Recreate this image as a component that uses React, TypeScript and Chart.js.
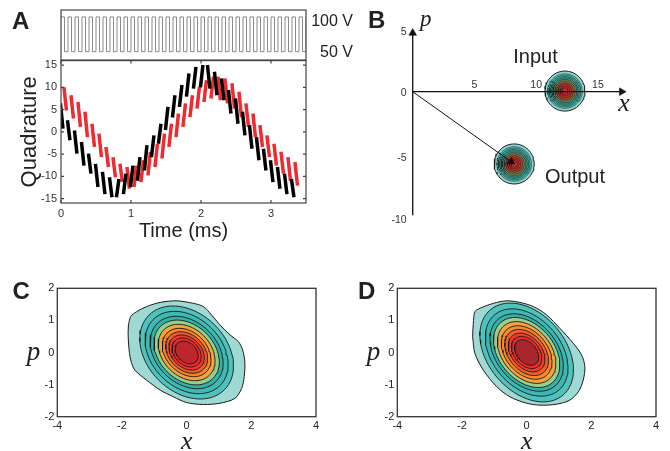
import React, { useEffect, useRef } from "react";
import { Chart, registerables } from "chart.js";
Chart.register(...registerables);

const FONT = '"Liberation Sans", Arial, Helvetica, sans-serif';
const SERIF = '"Liberation Serif", "Times New Roman", serif';
Chart.defaults.font.family = FONT;
Chart.defaults.color = "#333";

// ---------- Panel A : drive voltage ----------
const pulseTimes = [
  0, 0.05, 0.1, 0.15, 0.2, 0.25, 0.3, 0.35, 0.4, 0.45,
  0.5, 0.55, 0.6, 0.65, 0.7, 0.75, 0.8, 0.85, 0.9, 0.95,
  1, 1.05, 1.1, 1.15, 1.2, 1.25, 1.3, 1.35, 1.4, 1.45,
  1.5, 1.55, 1.6, 1.65, 1.7, 1.75, 1.8, 1.85, 1.9, 1.95,
  2, 2.05, 2.1, 2.15, 2.2, 2.25, 2.3, 2.35, 2.4, 2.45,
  2.5, 2.55, 2.6, 2.65, 2.7, 2.75, 2.8, 2.85, 2.9, 2.95,
  3, 3.05, 3.1, 3.15, 3.2, 3.25, 3.3, 3.35, 3.4, 3.45, 3.5,
];
const pulseLevels = [
  100, 50, 100, 50, 100, 50, 100, 50, 100, 50,
  100, 50, 100, 50, 100, 50, 100, 50, 100, 50,
  100, 50, 100, 50, 100, 50, 100, 50, 100, 50,
  100, 50, 100, 50, 100, 50, 100, 50, 100, 50,
  100, 50, 100, 50, 100, 50, 100, 50, 100, 50,
  100, 50, 100, 50, 100, 50, 100, 50, 100, 50,
  100, 50, 100, 50, 100, 50, 100, 50, 100, 50, 100,
];

// ---------- Panel A : quadrature streaks ----------
const blackTimes = [
  0.01, 0.11, 0.21, 0.31, 0.41, 0.51, 0.61, 0.71, 0.81, 0.91,
  1.01, 1.11, 1.21, 1.31, 1.41, 1.51, 1.61, 1.71, 1.81, 1.91,
  2.01, 2.11, 2.21, 2.31, 2.41, 2.51, 2.61, 2.71, 2.81, 2.91,
  3.01, 3.11, 3.21, 3.31,
];
const blackLow = [
  0.7, -1.9, -4.9, -7.6, -9.4, -12.4, -14.0, -14.7, -14.7, -14.0,
  -12.4, -11.0, -8.7, -5.7, -2.7, 0.4, 3.2, 5.6, 7.9, 9.7,
  10.0, 9.7, 8.2, 7.1, 4.1, 1.8, -0.8, -3.8, -6.4, -8.7,
  -11.3, -12.8, -14.0, -14.7,
];
const blackHigh = [
  6.4, 2.6, 0.3, -2.3, -4.9, -7.2, -9.0, -10.2, -10.6, -9.4,
  -7.6, -5.7, -3.0, -0.8, 1.8, 5.6, 8.2, 10.5, 13.1, 14.6,
  15.0, 15.0, 13.5, 12.0, 9.4, 7.5, 4.5, 1.5, -1.2, -3.8,
  -6.4, -7.9, -9.4, -10.6,
];
const redTimes = [
  0.06, 0.16, 0.26, 0.36, 0.46, 0.56, 0.66, 0.76, 0.86, 0.96,
  1.06, 1.16, 1.26, 1.36, 1.46, 1.56, 1.66, 1.76, 1.86, 1.96,
  2.06, 2.16, 2.26, 2.36, 2.46, 2.56, 2.66, 2.76, 2.86, 2.96,
  3.06, 3.16, 3.26, 3.36,
];
const redLow = [
  4.8, 3.0, 1.1, -1.2, -3.4, -5.7, -7.9, -10.2, -11.3, -12.8,
  -12.4, -11.3, -9.8, -7.9, -6.0, -3.4, -1.2, 1.1, 3.3, 5.2,
  6.7, 7.5, 7.1, 6.4, 5.2, 3.3, 1.1, -1.2, -3.4, -5.7,
  -7.6, -9.4, -11.0, -12.1,
];
const redHigh = [
  10.0, 8.2, 6.7, 4.5, 1.8, -0.4, -3.4, -5.7, -7.2, -7.9,
  -7.6, -6.4, -4.5, -2.7, -0.4, 1.8, 4.1, 6.4, 8.2, 10.1,
  11.6, 12.4, 12.4, 12.0, 10.9, 9.0, 6.4, 4.1, 1.5, -0.8,
  -2.7, -4.5, -5.7, -6.8,
];
const timeTicks = [0, 1, 2, 3];
const quadTicks = [-15, -10, -5, 0, 5, 10, 15];

// ---------- Panel B ----------
const bTicksX = [5, 10, 15];
const bTicksY = [5, 0, -5, -10];
const inputCenter = { x: 12.33, y: 0.05 };
const outputCenter = { x: 8.22, y: -5.85 };
const blobRadii = [1.62, 1.4, 1.28, 1.17, 1.06, 0.95, 0.82, 0.68, 0.54, 0.4, 0.26];
const blobColors = [
  "#8fd3cc", "#55c2bb", "#41b8b0", "#34ada5", "#3b9f8e", "#6f8a5e",
  "#9a6a3c", "#b04a30", "#c0352e", "#c92b2d", "#d2282c",
];

// ---------- Panels C and D ----------
const cdTicksX = [-4, -2, 0, 2, 4];
const cdTicksY = [-2, -1, 0, 1, 2];
const cOuterX = [-1.8, -1.73, -1.55, -1.24, -0.82, -0.31, 0.21, 0.52, 0.77, 1.03, 1.34, 1.6, 1.73, 1.8, 1.78, 1.7, 1.49, 1.03, 0.52, 0.0, -0.41, -0.82, -1.24, -1.6, -1.73, -1.79, -1.81];
const cOuterY = [0.86, 1.12, 1.27, 1.43, 1.56, 1.61, 1.53, 1.43, 1.17, 0.86, 0.55, 0.34, 0.08, -0.29, -0.75, -1.12, -1.43, -1.58, -1.62, -1.56, -1.38, -1.17, -0.86, -0.55, -0.23, 0.18, 0.6];
const cRingB = [1.22, 1.08, 0.95, 0.85, 0.74, 0.635, 0.545, 0.46, 0.38, 0.3];
const cRingColors = ["#4fc2bc", "#3fbab2", "#33b1a9", "#8fd08f", "#f5a43a", "#f6842c", "#f15a2b", "#ee3a2d", "#ec2a2c", "#be262d"];
const dOuterX = [-1.67, -1.65, -1.6, -1.44, -1.03, -0.62, -0.21, 0.21, 0.62, 1.03, 1.44, 1.7, 1.8, 1.75, 1.6, 1.34, 0.93, 0.41, 0.0, -0.52, -0.93, -1.34, -1.6];
const dOuterY = [0.49, 0.91, 1.27, 1.38, 1.53, 1.61, 1.56, 1.43, 1.17, 0.75, 0.29, -0.08, -0.44, -0.86, -1.22, -1.48, -1.61, -1.64, -1.58, -1.38, -1.06, -0.55, -0.03];
const dRingB = [1.2, 1.06, 0.94, 0.85, 0.75, 0.65, 0.56, 0.47, 0.39, 0.31];
const dRingColors = ["#50c2bc", "#3cb8b0", "#35b0a8", "#95d08e", "#f6a23a", "#f6892d", "#f15e2c", "#ee3c2d", "#ec2c2c", "#a9262c"];

// ---------- helpers ----------
function streaks(times: number[], lo: number[], hi: number[]) {
  const pts: any[] = [];
  const c = times.map((_, i) => (lo[i] + hi[i]) / 2);
  const w = 0.018;
  for (let i = 0; i < times.length; i++) {
    const prev = c[Math.max(0, i - 1)];
    const next = c[Math.min(c.length - 1, i + 1)];
    const up = next > prev;
    pts.push({ x: times[i] - w, y: up ? lo[i] : hi[i] });
    pts.push({ x: times[i] + w, y: up ? hi[i] : lo[i] });
    pts.push({ x: times[i] + w, y: null });
  }
  return pts;
}

function ellipsePts(cx: number, cy: number, b: number, ratio: number, angDeg: number) {
  const a = b * ratio;
  const th = (angDeg * Math.PI) / 180;
  const pts: any[] = [];
  const n = 72;
  for (let k = 0; k <= n; k++) {
    const t = (k / n) * 2 * Math.PI;
    pts.push({
      x: cx + a * Math.cos(t) * Math.cos(th) - b * Math.sin(t) * Math.sin(th),
      y: cy + a * Math.cos(t) * Math.sin(th) + b * Math.sin(t) * Math.cos(th),
    });
  }
  return pts;
}

function makeFrame(color: string, width: number, tick: number) {
  return {
    id: "frame",
    afterDraw(chart: any) {
      const { ctx, chartArea: a } = chart;
      ctx.save();
      ctx.strokeStyle = color;
      ctx.lineWidth = width;
      ctx.strokeRect(a.left, a.top, a.right - a.left, a.bottom - a.top);
      if (tick) {
        ctx.beginPath();
        const sx = chart.scales.x;
        const sy = chart.scales.y;
        sx.ticks.forEach((t: any) => {
          const px = sx.getPixelForValue(t.value);
          ctx.moveTo(px, a.bottom);
          ctx.lineTo(px, a.bottom - tick);
          ctx.moveTo(px, a.top);
          ctx.lineTo(px, a.top + tick);
        });
        sy.ticks.forEach((t: any) => {
          const py = sy.getPixelForValue(t.value);
          ctx.moveTo(a.left, py);
          ctx.lineTo(a.left + tick, py);
          ctx.moveTo(a.right, py);
          ctx.lineTo(a.right - tick, py);
        });
        ctx.stroke();
      }
      ctx.restore();
    },
  };
}

function makeTickText(items: { x: number; y: number; text: string; dx: number; dy: number; align: string }[]) {
  return {
    id: "ticktext",
    afterDraw(chart: any) {
      const { ctx } = chart;
      ctx.save();
      ctx.fillStyle = "#333";
      ctx.font = `10.5px ${FONT}`;
      ctx.textBaseline = "middle";
      items.forEach((it) => {
        ctx.textAlign = it.align;
        ctx.fillText(it.text, chart.scales.x.getPixelForValue(it.x) + it.dx, chart.scales.y.getPixelForValue(it.y) + it.dy);
      });
      ctx.restore();
    },
  };
}

const baseOpts = {
  responsive: false,
  animation: false as const,
  events: [] as any[],
  elements: { point: { radius: 0 }, line: { tension: 0 } },
};
const noPlugins = { legend: { display: false }, tooltip: { enabled: false } };

function fixTicks(vals: number[]) {
  return (s: any) => {
    s.ticks = vals.map((v) => ({ value: v }));
  };
}

// ---------- chart configs ----------
function makeATop(): any {
  return {
    type: "line",
    data: {
      datasets: [
        {
          data: pulseTimes.map((t, i) => ({ x: t, y: pulseLevels[i] })),
          borderColor: "#8a8a8a",
          borderWidth: 1,
          stepped: "before",
        },
      ],
    },
    options: {
      ...baseOpts,
      layout: { padding: { left: 61, right: 34, top: 10, bottom: 2 } },
      scales: {
        x: { type: "linear", min: 0, max: 3.5, display: false },
        y: { min: 38, max: 110, display: false, afterBuildTicks: fixTicks([50, 100]) },
      },
      plugins: noPlugins,
    },
    plugins: [makeFrame("#444", 1.2, 0)],
  };
}

function makeAMain(): any {
  return {
    type: "line",
    data: {
      datasets: [
        { data: streaks(blackTimes, blackLow, blackHigh), borderColor: "#000", borderWidth: 3.5, spanGaps: false, order: 0 },
        { data: streaks(redTimes, redLow, redHigh), borderColor: "#ee2b30", borderWidth: 3.5, spanGaps: false, order: 1 },
      ],
    },
    options: {
      ...baseOpts,
      layout: { padding: { left: 0, right: 34, top: 10, bottom: 0 } },
      scales: {
        x: {
          type: "linear", min: 0, max: 3.5,
          afterBuildTicks: fixTicks(timeTicks),
          afterFit: (s: any) => { s.height = 42; },
          grid: { display: false, drawTicks: false },
          border: { display: false },
          ticks: { padding: 4, font: { size: 11 }, color: "#333", maxRotation: 0, autoSkip: false },
          title: { display: true, text: "Time (ms)", font: { size: 20 }, color: "#222", padding: { top: 0, bottom: 2 } },
        },
        y: {
          min: -16, max: 16,
          afterBuildTicks: fixTicks(quadTicks),
          afterFit: (s: any) => { s.width = 61; },
          grid: { display: false, drawTicks: false },
          border: { display: false },
          ticks: { padding: 4, font: { size: 11 }, color: "#333", autoSkip: false },
          title: { display: true, text: "Quadrature", font: { size: 22 }, color: "#222", padding: { top: 17, bottom: 0 } },
        },
      },
      plugins: noPlugins,
    },
    plugins: [makeFrame("#444", 1.2, 3)],
  };
}

function blobSets(center: { x: number; y: number }) {
  return blobRadii.map((r, i) => ({
    data: ellipsePts(center.x, center.y, r, 1, 0),
    borderColor: "#1a1a1a",
    borderWidth: i === 0 ? 1 : 0.5,
    backgroundColor: blobColors[i],
    fill: "shape",
    order: 100 - i,
  }));
}

function makeB(): any {
  const arrow = (x: number, y: number, rot: number) => ({
    data: [{ x, y }],
    showLine: false,
    pointStyle: "triangle",
    pointRadius: 4.5,
    pointRotation: rot,
    pointBackgroundColor: "#111",
    pointBorderColor: "#111",
    pointBorderWidth: 0.5,
    order: -1,
  });
  const items = [
    ...bTicksY.map((v, i) => ({ x: 0, y: v, text: String(v), dx: -6, dy: [2, 1.5, 4.5, 5][i], align: "right" })),
    ...bTicksX.map((v) => ({ x: v, y: 0, text: String(v), dx: 0, dy: -7, align: "center" })),
  ];
  return {
    type: "line",
    data: {
      datasets: [
        ...blobSets(inputCenter),
        ...blobSets(outputCenter),
        { data: [{ x: 0, y: -10 }, { x: 0, y: 4.8 }], borderColor: "#111", borderWidth: 1.3, order: 0 },
        { data: [{ x: 0, y: 0 }, { x: 16.9, y: 0 }], borderColor: "#111", borderWidth: 1.3, order: 0 },
        { data: [{ x: 0, y: 0 }, { x: outputCenter.x - 0.2, y: outputCenter.y + 0.14 }], borderColor: "#111", borderWidth: 1, order: 0 },
        arrow(0, 4.75, 0),
        arrow(16.92, 0, 90),
        arrow(outputCenter.x - 0.25, outputCenter.y + 0.18, 125),
      ],
    },
    options: {
      ...baseOpts,
      layout: { padding: { left: 48, right: 35, top: 17.6, bottom: 10.1 } },
      scales: {
        x: { type: "linear", min: -2, max: 18, display: false },
        y: { min: -12, max: 6, display: false },
      },
      plugins: noPlugins,
    },
    plugins: [makeTickText(items)],
  };
}

function makeCD(outerX: number[], outerY: number[], ringB: number[], ringColors: string[], ratio: number, ang: number, rightPad: number): any {
  const outer = outerX.map((x, i) => ({ x, y: outerY[i] }));
  outer.push({ x: outerX[0], y: outerY[0] });
  const rings = ringB.map((b, i) => ({
    data: ellipsePts(0, 0, b, ratio, ang),
    borderColor: "#1a1a1a",
    borderWidth: 0.9,
    backgroundColor: ringColors[i],
    fill: "shape",
    order: 50 - i,
  }));
  return {
    type: "line",
    data: {
      datasets: [
        { data: outer, borderColor: "#1a1a1a", borderWidth: 1, backgroundColor: "#9fd9d4", fill: "shape", tension: 0.3, order: 60 },
        ...rings,
      ],
    },
    options: {
      ...baseOpts,
      layout: { padding: { left: 0, right: rightPad, top: 18.3, bottom: 0 } },
      scales: {
        x: {
          type: "linear", min: -4, max: 4,
          afterBuildTicks: fixTicks(cdTicksX),
          afterFit: (s: any) => { s.height = 28.3; },
          grid: { display: false, drawTicks: false },
          border: { display: false },
          ticks: { padding: 3, font: { size: 11 }, color: "#222", maxRotation: 0, autoSkip: false },
        },
        y: {
          min: -2, max: 2,
          afterBuildTicks: fixTicks(cdTicksY),
          afterFit: (s: any) => { s.width = 57.3; },
          grid: { display: false, drawTicks: false },
          border: { display: false },
          ticks: { padding: 3, font: { size: 11 }, color: "#222", autoSkip: false },
        },
      },
      plugins: noPlugins,
    },
    plugins: [makeFrame("#333", 1.3, 0)],
  };
}

// ---------- components ----------
function ChartBox({ left, top, width, height, make }: { left: number; top: number; width: number; height: number; make: () => any }) {
  const ref = useRef<HTMLCanvasElement>(null);
  useEffect(() => {
    const chart = new Chart(ref.current as HTMLCanvasElement, make());
    return () => chart.destroy();
  }, []);
  return (
    <div style={{ position: "absolute", left, top, width, height }}>
      <canvas ref={ref} width={width} height={height} style={{ width, height, display: "block" }} />
    </div>
  );
}

function Txt({ x, base, size, text, bold, italic, serif, align }: { x: number; base: number; size: number; text: string; bold?: boolean; italic?: boolean; serif?: boolean; align?: "left" | "center" | "right" }) {
  const asc = serif ? 0.8375 : 0.8465;
  const tx = align === "center" ? "translateX(-50%)" : align === "right" ? "translateX(-100%)" : "none";
  return (
    <div
      style={{
        position: "absolute",
        left: x,
        top: base - asc * size,
        fontSize: size,
        lineHeight: `${size}px`,
        fontFamily: serif ? SERIF : FONT,
        fontWeight: bold ? 700 : 400,
        fontStyle: italic ? "italic" : "normal",
        whiteSpace: "nowrap",
        transform: tx,
        color: "#222",
      }}
    >
      {text}
    </div>
  );
}

export default function App() {
  return (
    <div style={{ position: "absolute", left: 0, top: 0, width: 670, height: 451, overflow: "hidden", background: "#fff" }}>
      <ChartBox left={0} top={0} width={340} height={62} make={makeATop} />
      <ChartBox left={0} top={50} width={340} height={195} make={makeAMain} />
      <ChartBox left={340} top={0} width={330} height={250} make={makeB} />
      <ChartBox left={0} top={270} width={340} height={175} make={() => makeCD(cOuterX, cOuterY, cRingB, cRingColors, 1.35, -45, 24)} />
      <ChartBox left={340} top={270} width={330} height={175} make={() => makeCD(dOuterX, dOuterY, dRingB, dRingColors, 1.45, -50, 14)} />

      <Txt x={12} base={29.3} size={24} text="A" bold />
      <Txt x={368} base={28.3} size={24} text="B" bold />
      <Txt x={12.5} base={299.3} size={24} text="C" bold />
      <Txt x={358} base={299.3} size={24} text="D" bold />

      <Txt x={353} base={26.7} size={16} text="100 V" align="right" />
      <Txt x={353} base={58} size={16} text="50 V" align="right" />

      <Txt x={535.5} base={63.3} size={20} text="Input" align="center" />
      <Txt x={545} base={183} size={20} text="Output" />
      <Txt x={420} base={26.7} size={23} text="p" italic serif />
      <Txt x={624} base={111.5} size={26} text="x" italic serif align="center" />

      <Txt x={26.7} base={360.6} size={27} text="p" italic serif />
      <Txt x={186.7} base={449.5} size={26} text="x" italic serif align="center" />
      <Txt x={366.7} base={360.6} size={27} text="p" italic serif />
      <Txt x={526.7} base={449.5} size={26} text="x" italic serif align="center" />
    </div>
  );
}
